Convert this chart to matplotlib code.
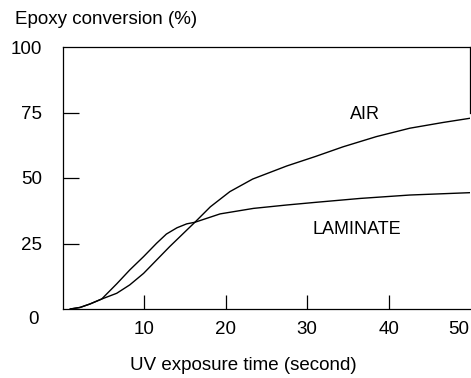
import numpy as np
import matplotlib
matplotlib.use("Agg")
import matplotlib.pyplot as plt
from matplotlib.transforms import ScaledTranslation

plt.rcParams["font.family"] = ["Liberation Sans", "DejaVu Sans"]

# ---------------- data ----------------
air_t = [0.9, 2.1, 3.3, 4.75, 6.6, 8.2, 9.9, 11.5, 13.1, 14.8, 16.2, 18.1, 20.5,
         23.3, 27.5, 31.0, 34.4, 38.5, 42.6, 46.7, 50.0]
air_y = [0.0, 0.6, 1.9, 3.8, 6.0, 9.2, 13.6, 18.7, 23.8, 28.9, 33.1, 39.0, 44.8,
         49.6, 54.6, 58.2, 61.9, 65.8, 69.0, 71.2, 72.8]

lam_t = [0.9, 2.1, 3.3, 4.75, 6.6, 8.2, 9.9, 11.5, 12.7, 14.0, 15.2, 16.2, 19.3,
         23.4, 27.5, 31.0, 36.5, 42.6, 50.0]
lam_y = [0.0, 0.6, 1.9, 3.8, 9.6, 14.9, 20.0, 25.1, 28.6, 31.0, 32.5, 33.1, 36.3,
         38.4, 39.7, 40.7, 42.2, 43.5, 44.4]

x_ticks = [10, 20, 30, 40, 50]
y_ticks = [0, 25, 50, 75, 100]

# ---------------- plot ----------------
W, H = 471, 378
fig = plt.figure(figsize=(W / 100, H / 100), dpi=100)
ax = fig.add_axes([63 / W, 1 - 309 / H, (470 - 63) / W, (309 - 47) / H])

ax.plot(air_t, air_y, color="black", lw=1.0, solid_joinstyle="round")
ax.plot(lam_t, lam_y, color="black", lw=1.0, solid_joinstyle="round")

ax.set_xlim(0, 50)
ax.set_ylim(0, 100)

for s in ax.spines.values():
    s.set_linewidth(0.9)
ax.spines["right"].set_bounds(75, 100)

ax.set_xticks(x_ticks)
ax.set_xticklabels([str(v) for v in x_ticks])
ax.set_yticks(y_ticks)
ax.set_yticklabels([str(v) for v in y_ticks])
ax.tick_params(axis="x", direction="in", length=10, width=0.9, pad=9, labelsize=13.5)
ax.tick_params(axis="y", direction="in", length=11.5, width=0.9, pad=15, labelsize=13.5)

# corner ticks have no marks, and their labels sit a little off
xt = ax.xaxis.get_major_ticks()
xt[-1].tick1line.set_visible(False)
xt[-1].label1.set_transform(xt[-1].label1.get_transform()
                            + ScaledTranslation(-11 / 100, 0, fig.dpi_scale_trans))
yt = ax.yaxis.get_major_ticks()
yt[0].tick1line.set_visible(False)
yt[-1].tick1line.set_visible(False)
yt[0].label1.set_transform(yt[0].label1.get_transform()
                           + ScaledTranslation(-3 / 100, -9 / 100, fig.dpi_scale_trans))

ax.text(37.1, 74.4, "AIR", ha="center", va="center", fontsize=13)
ax.text(36.1, 30.2, "LAMINATE", ha="center", va="center", fontsize=13)

fig.text(15 / W, 1 - 20 / H, "Epoxy conversion (%)", ha="left", va="center", fontsize=13.5)
fig.text(243 / W, 1 - 365 / H, "UV exposure time (second)", ha="center", va="center",
         fontsize=13.5)

fig.savefig("out.png", dpi=100)
